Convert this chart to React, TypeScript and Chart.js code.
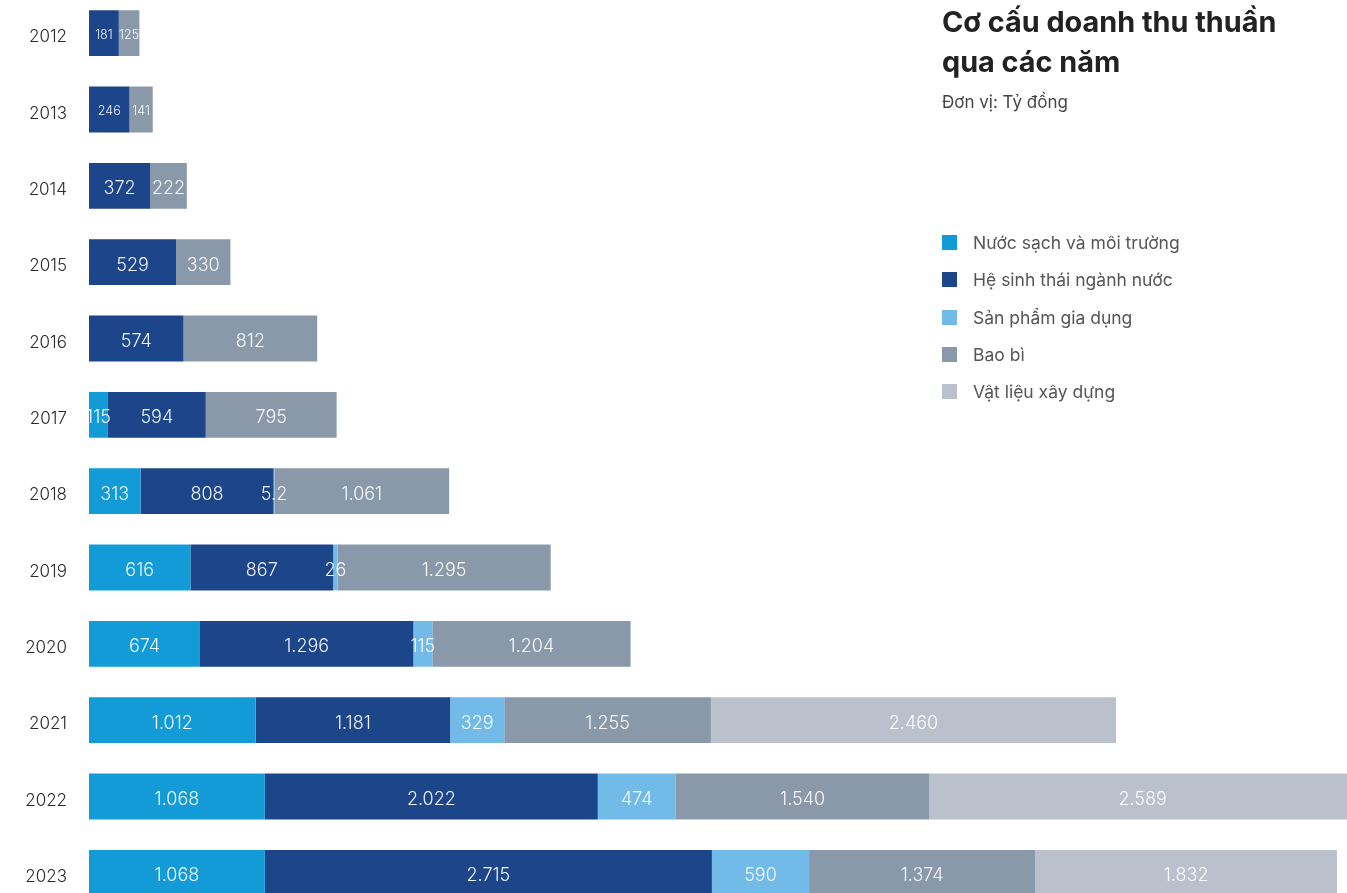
import React, { useEffect, useRef } from "react";
import { Chart, registerables } from "chart.js";

Chart.register(...registerables);

const years = ["2012", "2013", "2014", "2015", "2016", "2017", "2018", "2019", "2020", "2021", "2022", "2023"];
const seriesNames = [
  "Nước sạch và môi trường",
  "Hệ sinh thái ngành nước",
  "Sản phẩm gia dụng",
  "Bao bì",
  "Vật liệu xây dựng",
];
const nuocSach = [null, null, null, null, null, 115, 313, 616, 674, 1012, 1068, 1068];
const heSinhThai = [181, 246, 372, 529, 574, 594, 808, 867, 1296, 1181, 2022, 2715];
const giaDung = [null, null, null, null, null, null, 5.2, 26, 115, 329, 474, 590];
const baoBi = [125, 141, 222, 330, 812, 795, 1061, 1295, 1204, 1255, 1540, 1374];
const vatLieu = [null, null, null, null, null, null, null, null, null, 2460, 2589, 1832];

const seriesValues = [nuocSach, heSinhThai, giaDung, baoBi, vatLieu];
const colors = ["#139BD8", "#1C4689", "#72BAE8", "#8A99AA", "#BAC1CC"];

const FONT = "Inter, 'Noto Sans', sans-serif";

function fmt(v: number): string {
  if (v >= 1000) {
    const s = Math.round(v).toString();
    return s.slice(0, s.length - 3) + "." + s.slice(s.length - 3);
  }
  return String(v);
}

const labelPlugin = {
  id: "segLabels",
  afterDatasetsDraw(chart: any) {
    const ctx = chart.ctx;
    ctx.save();
    ctx.textAlign = "center";
    ctx.textBaseline = "middle";
    ctx.fillStyle = "rgba(255,255,255,0.93)";
    chart.data.datasets.forEach((ds: any, di: number) => {
      const meta = chart.getDatasetMeta(di);
      meta.data.forEach((el: any, i: number) => {
        const v = ds.data[i];
        if (v == null) return;
        let total = 0;
        seriesValues.forEach((arr) => {
          total += (arr[i] as number) || 0;
        });
        const size = total < 400 ? 12.5 : 18;
        ctx.font = `300 ${size}px ${FONT}`;
        const cx = (el.x + el.base) / 2;
        ctx.fillText(fmt(v), cx, el.y + (size > 15 ? 3 : 2));
      });
    });
    ctx.restore();
  },
};

export default function App() {
  const ref = useRef<HTMLCanvasElement | null>(null);

  useEffect(() => {
    if (!ref.current) return;
    const chart = new Chart(ref.current, {
      type: "bar",
      data: {
        labels: years,
        datasets: seriesNames.map((name, i) => ({
          label: name,
          data: seriesValues[i] as any,
          backgroundColor: colors[i],
          borderWidth: 0,
          barPercentage: 0.6,
          categoryPercentage: 1,
        })),
      },
      options: {
        indexAxis: "y",
        animation: false,
        responsive: false,
        maintainAspectRatio: false,
        layout: { padding: 0 },
        plugins: {
          legend: { display: false },
          title: { display: false },
          tooltip: { enabled: false },
        },
        scales: {
          x: {
            stacked: true,
            display: false,
            min: 0,
            max: 7640,
          },
          y: {
            stacked: true,
            grid: { display: false, drawTicks: false },
            border: { display: false },
            ticks: {
              padding: 22,
              labelOffset: 4,
              color: "#2a2a2a",
              font: { family: FONT, size: 17, weight: "300" as any },
            },
            afterFit(scale: any) {
              scale.width = 89;
              scale.paddingTop = 0;
              scale.paddingBottom = 0;
            },
          },
        },
      },
      plugins: [labelPlugin],
    });
    return () => chart.destroy();
  }, []);

  return (
    <div
      style={{
        position: "fixed",
        left: 0,
        top: 0,
        width: 1347,
        height: 893,
        overflow: "hidden",
        background: "#ffffff",
      }}
    >
      <div style={{ position: "absolute", left: 0, top: -5, width: 1347, height: 916 }}>
        <canvas ref={ref} width={1347} height={916} style={{ width: 1347, height: 916 }} />
      </div>
      <div
        style={{
          position: "absolute",
          left: 942,
          top: 2,
          fontFamily: FONT,
          fontWeight: 700,
          fontSize: 28.8,
          lineHeight: "40px",
          color: "#222222",
          whiteSpace: "nowrap",
        }}
      >
        <div>Cơ cấu doanh thu thuần</div>
        <div>qua các năm</div>
      </div>
      <div
        style={{
          position: "absolute",
          left: 942,
          top: 90,
          fontFamily: FONT,
          fontSize: 17,
          lineHeight: "24px",
          color: "#444444",
          whiteSpace: "nowrap",
        }}
      >
        Đơn vị: Tỷ đồng
      </div>
      <div style={{ position: "absolute", left: 942, top: 224 }}>
        {seriesNames.map((name, i) => (
          <div
            key={name}
            style={{
              display: "flex",
              alignItems: "center",
              height: 37.3,
              fontFamily: FONT,
              fontSize: 17.5,
              color: "#555555",
              whiteSpace: "nowrap",
            }}
          >
            <span
              style={{
                display: "inline-block",
                width: 15,
                height: 15,
                background: colors[i],
                marginRight: 16,
              }}
            />
            <span>{name}</span>
          </div>
        ))}
      </div>
    </div>
  );
}
